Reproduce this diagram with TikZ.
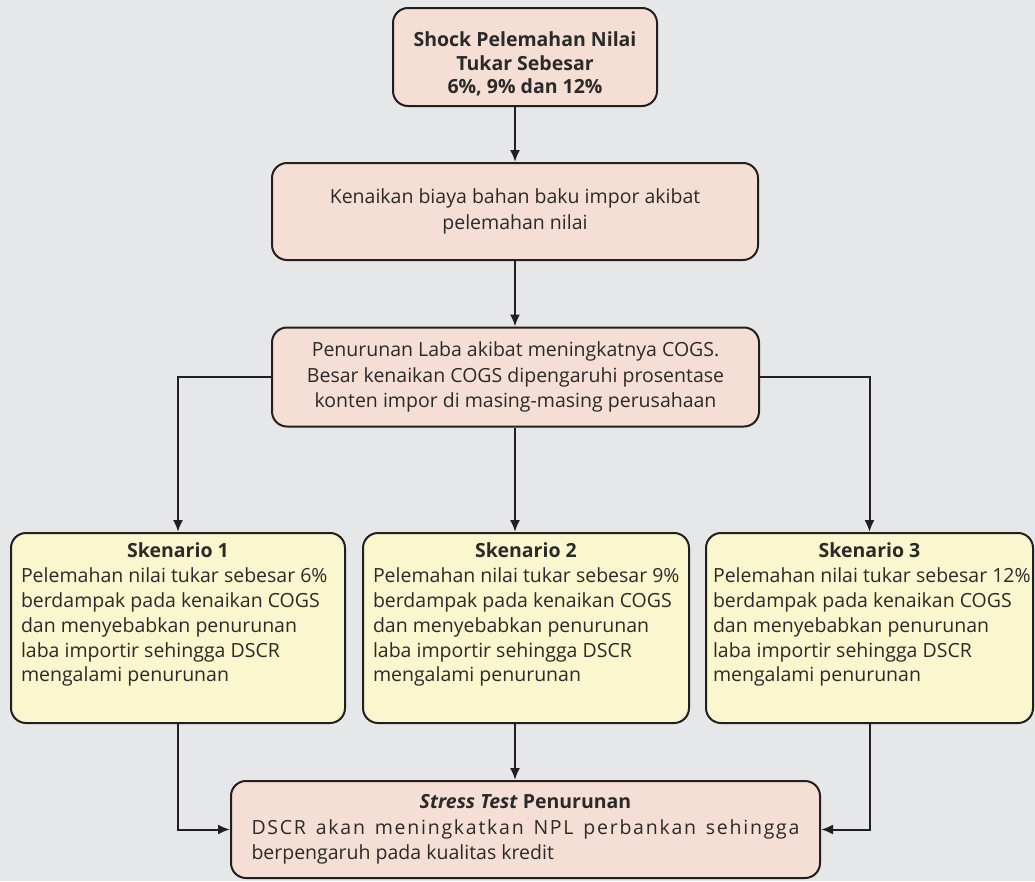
\documentclass[tikz,border=0pt]{standalone}
\usepackage{fontspec}
\setmainfont{Open Sans}
\usetikzlibrary{arrows.meta}
\definecolor{bggray}{HTML}{E6E7E8}
\definecolor{pinkbox}{HTML}{F5DFD4}
\definecolor{yellowbox}{HTML}{FAF7CE}
\definecolor{inkline}{HTML}{231F20}
\definecolor{inktext}{HTML}{2A2A2A}
\tikzset{
  flow/.style={draw=inkline, line width=2pt, rounded corners=15pt, fill=pinkbox,
    text=inktext, align=center, font=\fontsize{19.5}{25.5}\selectfont},
  scen/.style={flow, fill=yellowbox, inner xsep=10pt, inner ysep=10pt, minimum height=190pt,
    font=\fontsize{19.5}{24.8}\selectfont},
  link/.style={draw=inkline, line width=2pt},
}
\newcommand{\skentext}[3]{\parbox[t][170pt][t]{#3}{%
  {\centering\textbf{Skenario #1}\par}\raggedright
  \mbox{Pelemahan nilai tukar sebesar #2}\\
  \mbox{berdampak pada kenaikan COGS}\\
  \mbox{dan menyebabkan penurunan}\\
  \mbox{laba importir sehingga DSCR}\\
  \mbox{mengalami penurunan}}}
\begin{document}
\begin{tikzpicture}[x=1pt, y=-1pt, >={Latex[length=12pt,width=10pt]}]
\fill[bggray] (0,0) rectangle (1035,881);
\useasboundingbox (0,0) rectangle (1035,881);
\node[flow, minimum width=264pt, minimum height=98pt, font=\fontsize{19.5}{23.5}\selectfont\bfseries] (shock) at (525,57)
  {\rule{0pt}{29pt}Shock Pelemahan Nilai\\Tukar Sebesar\\6\%, 9\% dan 12\%};
\node[flow, minimum width=486pt, minimum height=97pt] (naik) at (515,211.5)
  {Kenaikan biaya bahan baku impor akibat\\pelemahan nilai};
\node[flow, minimum width=487pt, minimum height=99pt] (laba) at (515.5,377)
  {Penurunan Laba akibat meningkatnya COGS.\\Besar kenaikan COGS dipengaruhi prosentase\\konten impor di masing-masing perusahaan};
\node[scen, minimum width=334pt] (sk1) at (178,628) {\skentext{1}{6\%}{314pt}};
\node[scen, minimum width=326pt] (sk2) at (526,628) {\skentext{2}{9\%}{306pt}};
\node[scen, minimum width=327pt, inner xsep=7pt] (sk3) at (869.5,628) {\skentext{3}{12\%}{313pt}};
\node[flow, minimum width=589pt, minimum height=97pt, text width=548pt, align=justify] (stress) at (525.5,829.5)
  {{\centering\textbf{\textit{Stress Test} Penurunan}\par}
   {\addfontfeature{LetterSpace=9}DSCR akan meningkatkan NPL perbankan sehingga}\linebreak berpengaruh pada kualitas kredit};
\draw[link, ->] (naik.north |- shock.south) -- (naik.north);
\draw[link, ->] (naik.south) -- (naik.south |- laba.north);
\draw[link, ->] (naik.south |- laba.south) -- (naik.south |- sk2.north);
\draw[link, ->] (laba.west) -| (sk1.north);
\draw[link, ->] (laba.east) -| (sk3.north);
\draw[link, ->] (sk1.south) |- (stress.west);
\draw[link, ->] (sk2.south -| naik.south) -- (naik.south |- stress.north);
\draw[link, ->] (sk3.south) |- (stress.east);
\end{tikzpicture}
\end{document}
